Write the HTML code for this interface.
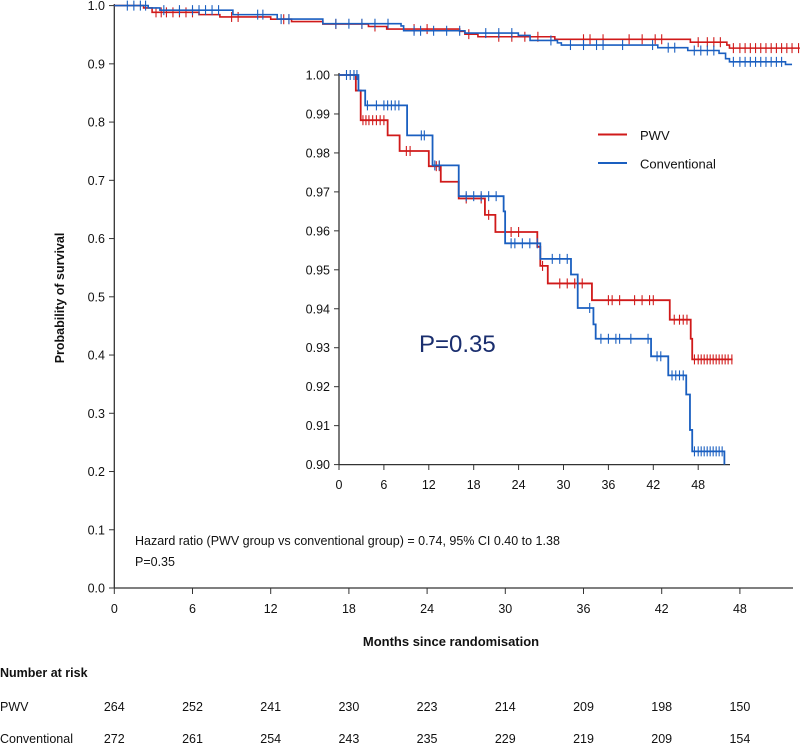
<!DOCTYPE html>
<html><head><meta charset="utf-8"><style>
body{margin:0;background:#fff;}
svg text{font-family:"Liberation Sans",sans-serif;fill:#111;}
</style></head><body>
<svg id="c" width="800" height="745"></svg>
<script>
const redT=[0,2.25,2.9,6.5,8.1,12,13.6,16,19.5,20.9,26.5,26.9,27.9,33.8,44.2,47.0,47.2];
const redS=[1,0.996,0.9884,0.9845,0.9805,0.9766,0.9726,0.9683,0.9641,0.9597,0.9559,0.951,0.9465,0.9422,0.9372,0.9323,0.927];
const blueT=[0,2.6,3.5,9.1,12.5,16,22,22.2,26.9,31,31.9,34,34.3,41.7,44,46.4,46.9,47.2,51.5];
const blueS=[1,0.996,0.9922,0.9845,0.9768,0.9689,0.965,0.9568,0.9528,0.9488,0.9402,0.936,0.9323,0.9278,0.9229,0.918,0.9089,0.9034,0.899];
const redC=[3.2,3.6,4,4.5,5,5.5,6,9,9.5,13,13.4,17,19,20,23,24,27.2,29.5,30.5,31.5,32.5,36,36.5,37.5,39.5,40.5,41.5,42,44.8,45.5,46,46.5,47.5,48,48.4,48.8,49.2,49.6,50,50.4,50.8,51.2,51.6,52,52.5];
const blueC=[1,1.5,2,2.4,3.8,5,6,6.5,7,7.5,8,11,11.4,12.8,13.4,17,18,19,20,21,23,23.5,24.5,25.5,26.5,28.5,29.5,30.5,33.5,35,36,37,37.5,39,41.3,42.5,43,44.5,45,45.5,46,47.5,48,48.4,48.8,49.2,49.6,50,50.4,50.8,51.2];
const xTicks=[0,6,12,18,24,30,36,42,48];
const mainY=[0,0.1,0.2,0.3,0.4,0.5,0.6,0.7,0.8,0.9,1.0];
const insetY=[0.90,0.91,0.92,0.93,0.94,0.95,0.96,0.97,0.98,0.99,1.00];
const riskPWV=[264,252,241,230,223,214,209,198,150];
const riskConv=[272,261,254,243,235,229,219,209,154];
const NS='http://www.w3.org/2000/svg';
const svg=document.getElementById('c');
function el(t,a,p){const e=document.createElementNS(NS,t);for(const k in a)e.setAttribute(k,a[k]);(p||svg).appendChild(e);return e;}
function txt(s,x,y,a,p){const e=el('text',Object.assign({x:x,y:y},a),p);e.textContent=s;return e;}
const mx=m=>114.3+m*78.2/6, my=v=>588-v*582.4;
const ix=m=>339+m*44.9/6, iy=v=>464.6-(v-0.9)*3896;
// main axes
el('line',{x1:114.3,y1:4,x2:114.3,y2:588,stroke:'#333','stroke-width':1.3});
el('line',{x1:114.3,y1:588,x2:793,y2:588,stroke:'#333','stroke-width':1.3});
mainY.forEach(v=>{const g=el('g',{});
 el('line',{x1:109,x2:114.3,y1:my(v),y2:my(v),stroke:'#333'},g);txt(v.toFixed(1),105,my(v)+4.5,{'text-anchor':'end','font-size':12.5},g);});
xTicks.forEach(m=>{const g=el('g',{});
 el('line',{x1:mx(m),x2:mx(m),y1:588,y2:594,stroke:'#333'},g);txt(m,mx(m),613,{'text-anchor':'middle','font-size':12.5},g);});
const yt=txt('Probability of survival',0,0,{'font-size':12.5,'font-weight':'bold','text-anchor':'middle',transform:'translate(64,298) rotate(-90)'});

const xt=txt('Months since randomisation',451,646,{'font-size':13,'font-weight':'bold','text-anchor':'middle'});

function curve(T,S,C,fx,fy,col,xmax,clipY,name,th){
 let d='M'+fx(T[0])+','+fy(S[0]);
 for(let i=1;i<T.length;i++){d+='H'+fx(T[i])+'V'+Math.min(fy(S[i]),clipY);}
 d+='H'+fx(xmax);
 const p=el('path',{d:d,fill:'none',stroke:col,'stroke-width':th});
 
 C.forEach(c=>{let s=S[0];for(let i=0;i<T.length;i++)if(T[i]<=c)s=S[i];
  if(c>xmax)return;const y=Math.min(fy(s),clipY);
  const t=el('line',{x1:fx(c),x2:fx(c),y1:y-5,y2:y+5,stroke:col,'stroke-width':1.1});
  });
}
curve(redT,redS,redC,mx,my,'#d01a1a',52.6,588,'pwv-curve-main',1.6);
curve(blueT,blueS,blueC,mx,my,'#1a5fc0',52,588,'conventional-curve-main',1.6);
// inset
el('line',{x1:339,y1:73,x2:339,y2:464.6,stroke:'#333','stroke-width':1.3});
el('line',{x1:339,y1:464.6,x2:730,y2:464.6,stroke:'#333','stroke-width':1.3});
insetY.forEach(v=>{const g=el('g',{});
 el('line',{x1:334,x2:339,y1:iy(v),y2:iy(v),stroke:'#333'},g);txt(v.toFixed(2),330,iy(v)+4.5,{'text-anchor':'end','font-size':12.5},g);});
xTicks.forEach(m=>{const g=el('g',{});
 el('line',{x1:ix(m),x2:ix(m),y1:464.6,y2:470,stroke:'#333'},g);txt(m,ix(m),489,{'text-anchor':'middle','font-size':12.5},g);});
curve(redT,redS,redC,ix,iy,'#d01a1a',52.6,464.6,'pwv-curve-inset',1.8);
curve(blueT,blueS,blueC,ix,iy,'#1a5fc0',51.5,464.6,'conventional-curve-inset',1.8);
// legend
const l1=el('g',{});
el('line',{x1:598,x2:627,y1:134.5,y2:134.5,stroke:'#d01a1a','stroke-width':2},l1);txt('PWV',640,140,{'font-size':13},l1);
const l2=el('g',{});
el('line',{x1:598,x2:627,y1:163,y2:163,stroke:'#1a5fc0','stroke-width':2},l2);txt('Conventional',640,168.5,{'font-size':13},l2);
const pv=txt('P=0.35',419,352,{'font-size':24,style:'fill:#1a2e6e'});

const hr=txt('Hazard ratio (PWV group vs conventional group) = 0.74, 95% CI 0.40 to 1.38',135,545,{'font-size':12.5});

const p2=txt('P=0.35',135,566,{'font-size':12.5});

// risk table
const rh=txt('Number at risk',0,677,{'font-size':12.5,'font-weight':'bold'});

const r1=txt('PWV',0,711,{'font-size':12.5});
const r2=txt('Conventional',0,743,{'font-size':12.5});
riskPWV.forEach((n,i)=>{const t=txt(n,mx(xTicks[i]),711,{'font-size':12.5,'text-anchor':'middle'});
 });
riskConv.forEach((n,i)=>{const t=txt(n,mx(xTicks[i]),743,{'font-size':12.5,'text-anchor':'middle'});
 });
</script>
</body></html>
